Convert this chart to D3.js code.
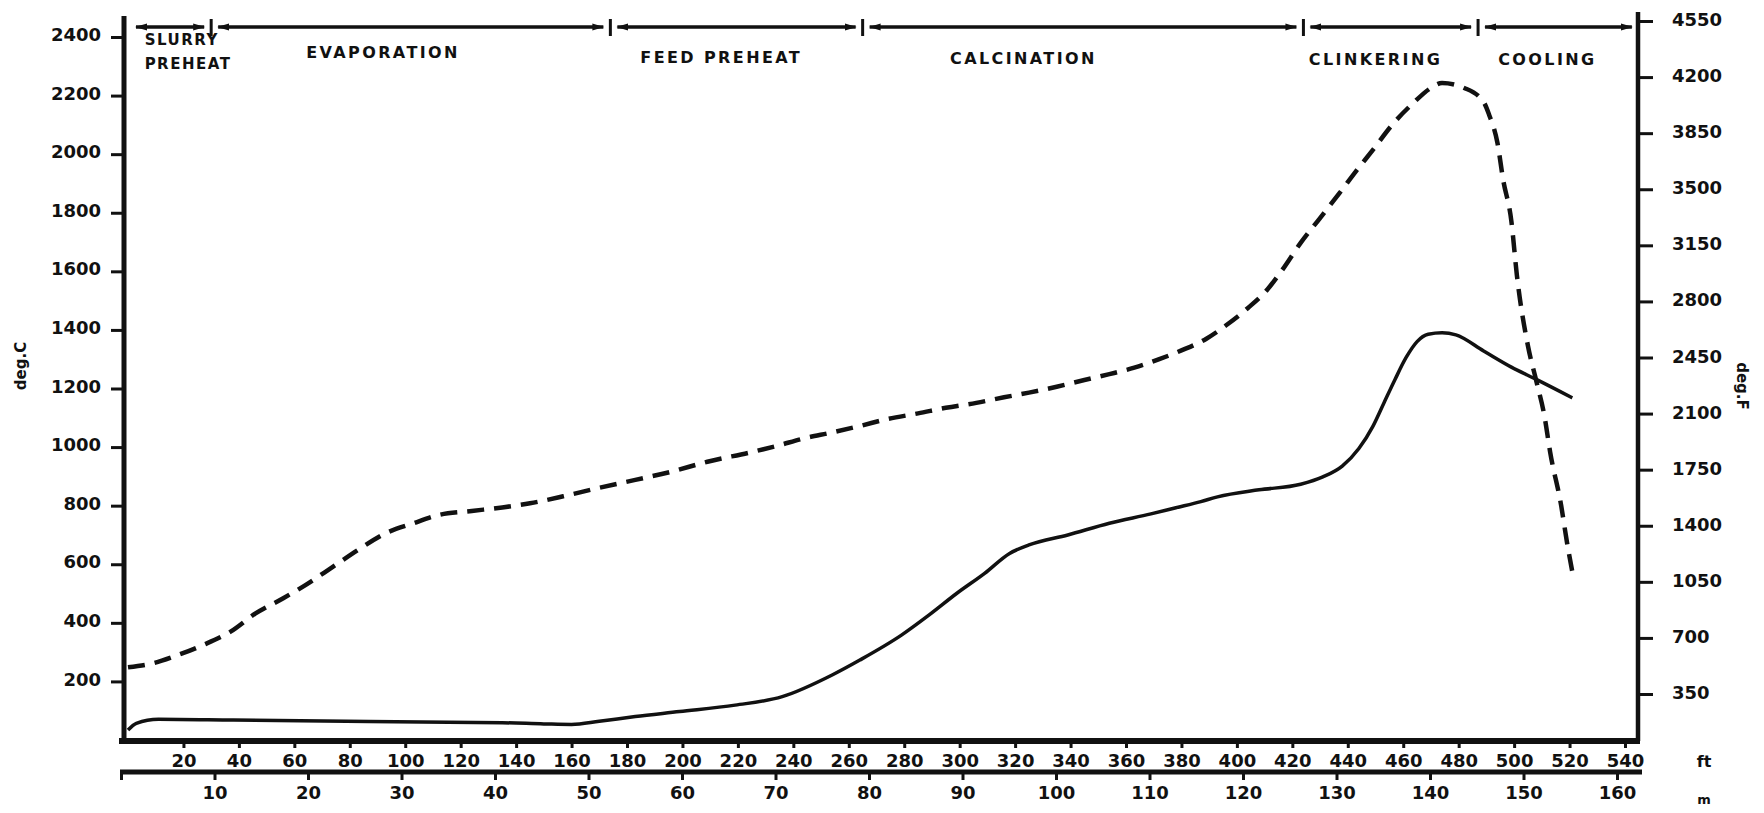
<!DOCTYPE html>
<html>
<head>
<meta charset="utf-8">
<title>Kiln temperature profile</title>
<script src="https://d3js.org/d3.v7.min.js"></script>
<style>
  body { margin: 0; background: #fff; }
  svg text { font-family: "DejaVu Sans", sans-serif; font-weight: bold; fill: #111; }
</style>
</head>
<body>
<script>
  // gas temperature (dashed), distance along kiln in ft and deg C
  var gasFt = [0, 9, 18, 27, 37, 46, 56, 64, 74, 83, 93, 103, 112, 124, 135, 145, 157, 169, 183, 196,
    209, 225, 234, 244, 254, 264, 274, 285, 295, 306, 316, 325, 335, 345, 354, 363, 372, 380, 389, 396,
    404, 411, 416, 423, 430, 437, 443, 449, 456, 464, 470, 474, 482, 489, 491, 494, 496, 499, 501, 505,
    508, 511, 513, 517, 519, 521];
  var gasC = [248, 262, 290, 324, 370, 432, 484, 529, 592, 649, 706, 740, 768, 782, 794, 808, 832, 859, 888, 916,
    950, 983, 1004, 1030, 1050, 1072, 1096, 1115, 1134, 1151, 1170, 1186, 1206, 1229, 1249, 1271, 1300, 1330, 1370, 1415,
    1475, 1538, 1600, 1697, 1782, 1867, 1942, 2014, 2100, 2178, 2226, 2243, 2226, 2178, 2134, 2038, 1915, 1772, 1587, 1345,
    1226, 1103, 983, 799, 679, 574];

  // material temperature (solid)
  var matFt = [0, 3, 11, 38, 87, 135, 150, 160, 170, 183, 199, 219, 236, 254, 264, 279, 289, 299, 309, 318,
    325, 339, 354, 369, 378, 387, 393, 408, 423, 431, 438, 444, 449, 453, 457, 461, 465, 469, 474, 479,
    489, 499, 508, 521];
  var matC = [34, 57, 71, 68, 63, 59, 55, 53, 64, 80, 97, 119, 148, 222, 273, 358, 427, 501, 569, 637,
    666, 700, 740, 772, 793, 814, 830, 854, 873, 898, 935, 995, 1070, 1150, 1230, 1305, 1360, 1385, 1390, 1383,
    1328, 1273, 1231, 1168];

  var phaseNames = [['SLURRY', 'PREHEAT'], ['EVAPORATION'], ['FEED PREHEAT'], ['CALCINATION'], ['CLINKERING'], ['COOLING']];
  var phaseBounds = [0, 30, 174, 265, 424, 487, 545];

  var cTicks = [200, 400, 600, 800, 1000, 1200, 1400, 1600, 1800, 2000, 2200, 2400];
  var fTicks = [350, 700, 1050, 1400, 1750, 2100, 2450, 2800, 3150, 3500, 3850, 4200, 4550];
  var ftTicks = [20, 40, 60, 80, 100, 120, 140, 160, 180, 200, 220, 240, 260, 280, 300,
    320, 340, 360, 380, 400, 420, 440, 460, 480, 500, 520, 540];
  var mTicks = [10, 20, 30, 40, 50, 60, 70, 80, 90, 100, 110, 120, 130, 140, 150, 160];

  var width = 1764;
  var height = 813;
  var leftX = 124, rightX = 1638, baseY = 741, meterY = 772, barY = 27;

  var svg = d3.select('body').append('svg').attr('width', width).attr('height', height);

  var x = d3.scaleLinear().domain([0, 540]).range([128, 1625]);
  var xm = d3.scaleLinear().domain([0, 160]).range([121, 1617]);
  var yc = d3.scaleLinear().domain([0, 2400]).range([740, 37]);
  var yf = d3.scaleLinear().domain([350, 4550]).range([694, 21]);

  var plain = d3.format('d');

  function styleAxis(g, size) {
    g.select('.domain').remove();
    g.selectAll('.tick line').attr('stroke', '#111').attr('stroke-width', 3);
    g.selectAll('.tick text')
      .attr('font-family', '"DejaVu Sans", sans-serif')
      .attr('font-weight', 'bold')
      .attr('font-size', size)
      .attr('fill', '#111');
  }

  // axes
  svg.append('g')
    .attr('transform', 'translate(' + leftX + ',0)')
    .call(d3.axisLeft(yc).tickValues(cTicks).tickFormat(plain).tickSize(13).tickPadding(10))
    .call(styleAxis, 18)
    .selectAll('.tick text').attr('dy', '0.2em');

  svg.append('g')
    .attr('transform', 'translate(' + rightX + ',0)')
    .call(d3.axisRight(yf).tickValues(fTicks).tickFormat(plain).tickSize(15).tickPadding(19))
    .call(styleAxis, 18)
    .selectAll('.tick text').attr('dy', '0.25em');

  svg.append('g')
    .attr('transform', 'translate(0,' + baseY + ')')
    .call(d3.axisBottom(x).tickValues(ftTicks).tickFormat(plain).tickSize(7).tickPadding(6))
    .call(styleAxis, 18);

  svg.append('g')
    .attr('transform', 'translate(0,' + meterY + ')')
    .call(d3.axisBottom(xm).tickValues([0].concat(mTicks)).tickFormat(function(d) { return d ? plain(d) : ''; })
      .tickSize(8).tickPadding(6))
    .call(styleAxis, 18);

  // axis lines
  var frame = [
    [[leftX, 16], [leftX, baseY], 5],
    [[rightX, 12], [rightX, baseY], 4.5],
    [[leftX - 5, baseY], [rightX + 2, baseY], 6],
    [[leftX - 4, meterY], [rightX + 4, meterY], 5]
  ];
  svg.selectAll('line.frame')
    .data(frame)
    .enter()
    .append('line')
    .attr('class', 'frame')
    .attr('x1', function(d) { return d[0][0]; })
    .attr('y1', function(d) { return d[0][1]; })
    .attr('x2', function(d) { return d[1][0]; })
    .attr('y2', function(d) { return d[1][1]; })
    .attr('stroke', '#111')
    .attr('stroke-width', function(d) { return d[2]; });

  // phase arrows along the top
  var defs = svg.append('defs');
  defs.append('marker')
    .attr('id', 'arrow')
    .attr('viewBox', '0 0 12 8')
    .attr('refX', 11).attr('refY', 4)
    .attr('markerWidth', 12).attr('markerHeight', 8)
    .attr('markerUnits', 'userSpaceOnUse')
    .attr('orient', 'auto-start-reverse')
    .append('path')
    .attr('d', 'M0,0.5L12,4L0,7.5Z')
    .attr('fill', '#111');

  var phases = phaseNames.map(function(n, i) {
    return { name: n, from: phaseBounds[i], to: phaseBounds[i + 1] };
  });

  svg.selectAll('line.phase')
    .data(phases)
    .enter()
    .append('line')
    .attr('class', 'phase')
    .attr('x1', function(d, i) { return x(d.from) + (i === 0 ? 8 : 7); })
    .attr('x2', function(d) { return x(d.to) - 7; })
    .attr('y1', barY).attr('y2', barY)
    .attr('stroke', '#111')
    .attr('stroke-width', 3.5)
    .attr('marker-start', 'url(#arrow)')
    .attr('marker-end', 'url(#arrow)');

  svg.selectAll('line.divider')
    .data(phaseBounds.slice(1, -1))
    .enter()
    .append('line')
    .attr('class', 'divider')
    .attr('x1', function(d) { return x(d); })
    .attr('x2', function(d) { return x(d); })
    .attr('y1', barY - 8).attr('y2', barY + 9)
    .attr('stroke', '#111')
    .attr('stroke-width', 3);

  // label placement along the bar (ft) and baselines
  var labelFt = [6, 92, 214, 323, 450, 512];
  var labelY = [45, 58, 63, 64, 65, 65];

  phases.forEach(function(p, i) {
    var t = svg.append('text')
      .attr('x', x(labelFt[i]))
      .attr('y', labelY[i])
      .attr('font-size', i === 0 ? 15 : 16)
      .attr('letter-spacing', i === 0 ? 1.5 : 2.4)
      .attr('text-anchor', i === 0 ? 'start' : 'middle');
    p.name.forEach(function(line, j) {
      t.append('tspan')
        .attr('x', x(labelFt[i]))
        .attr('dy', j === 0 ? 0 : 24)
        .text(line);
    });
  });

  // curves
  var line = d3.line()
    .x(function(d) { return x(d[0]); })
    .y(function(d) { return yc(d[1]); })
    .curve(d3.curveMonotoneX);

  svg.append('path')
    .datum(d3.zip(gasFt, gasC))
    .attr('d', line)
    .attr('fill', 'none')
    .attr('stroke', '#111')
    .attr('stroke-width', 4.5)
    .attr('stroke-dasharray', '17 10');

  svg.append('path')
    .datum(d3.zip(matFt, matC))
    .attr('d', line)
    .attr('fill', 'none')
    .attr('stroke', '#111')
    .attr('stroke-width', 3.5);

  // axis titles and units
  svg.append('text')
    .attr('transform', 'translate(26,366) rotate(-90)')
    .attr('text-anchor', 'middle')
    .attr('font-size', 15)
    .text('deg.C');

  svg.append('text')
    .attr('transform', 'translate(1737,386) rotate(90)')
    .attr('text-anchor', 'middle')
    .attr('font-size', 15)
    .text('deg.F');

  svg.append('text')
    .attr('x', 1704).attr('y', 767)
    .attr('text-anchor', 'middle')
    .attr('font-size', 16)
    .text('ft');

  svg.append('text')
    .attr('x', 1704).attr('y', 804)
    .attr('text-anchor', 'middle')
    .attr('font-size', 13)
    .text('m');
</script>
</body>
</html>
